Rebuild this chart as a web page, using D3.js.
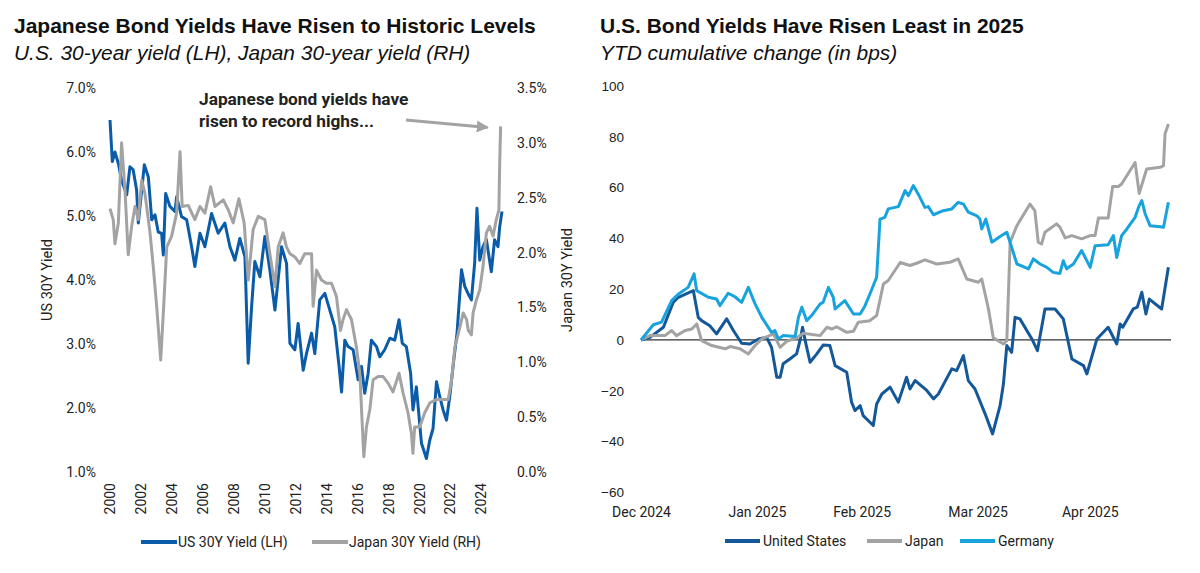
<!DOCTYPE html>
<html>
<head>
<meta charset="utf-8">
<script src="https://cdn.jsdelivr.net/npm/d3@7"></script>
<style>
body { margin: 0; background: #fff; }
text { font-family: Roboto, sans-serif; fill: #222; }
.ttl { font-family: "Liberation Sans", Arial, sans-serif; font-weight: bold; font-size: 21px; fill: #111; }
.sub { font-family: "Liberation Sans", Arial, sans-serif; font-style: italic; font-size: 20.9px; fill: #111; }
</style>
</head>
<body>
<svg width="1200" height="573"></svg>
<script>
// ---- left chart: 30Y yields, decimal years ----
var usYear = [2000.0, 2000.15, 2000.32, 2000.54, 2000.75, 2001.08, 2001.29, 2001.5, 2001.72, 2001.83,
  2002.22, 2002.48, 2002.7, 2002.91, 2003.12, 2003.34, 2003.45, 2003.6, 2003.88, 2004.2,
  2004.31, 2004.63, 2004.96, 2005.28, 2005.49, 2005.82, 2006.14, 2006.57, 2007.0, 2007.43,
  2007.76, 2008.08, 2008.4, 2008.73, 2008.94, 2009.16, 2009.37, 2009.7, 2010.02, 2010.34,
  2010.67, 2011.1, 2011.42, 2011.64, 2011.96, 2012.17, 2012.5, 2012.71, 2013.04, 2013.25,
  2013.57, 2013.9, 2014.22, 2014.54, 2014.82, 2014.98, 2015.19, 2015.4, 2015.73, 2016.05,
  2016.27, 2016.48, 2016.7, 2016.91, 2017.24, 2017.45, 2017.77, 2018.1, 2018.42, 2018.7,
  2018.91, 2019.17, 2019.45, 2019.6, 2019.82, 2020.15, 2020.47, 2020.69, 2020.9, 2021.12,
  2021.33, 2021.55, 2021.77, 2021.98, 2022.24, 2022.45, 2022.74, 2022.95, 2023.16, 2023.38,
  2023.59, 2023.74, 2023.92, 2024.13, 2024.35, 2024.67, 2024.88, 2025.1, 2025.21, 2025.36];
var usYield = [6.5, 5.85, 6.0, 5.82, 5.56, 5.33, 5.77, 5.72, 5.41, 4.89,
  5.8, 5.61, 4.94, 5.02, 4.75, 4.73, 4.39, 5.35, 5.15, 5.07,
  5.3, 4.99, 4.94, 4.52, 4.21, 4.73, 4.52, 5.04, 4.73, 4.89,
  4.52, 4.31, 4.65, 4.36, 2.7, 3.58, 4.29, 4.05, 4.68, 4.16,
  3.53, 4.52, 4.26, 3.01, 2.91, 3.32, 2.59, 2.85, 3.17, 2.85,
  3.69, 3.79, 3.53, 3.27, 2.65, 2.25, 3.06, 2.96, 2.91, 2.44,
  2.65, 2.23, 2.54, 3.06, 2.96, 2.8, 2.91, 3.09, 3.06, 3.38,
  3.01, 2.96, 2.54, 1.97, 2.33, 1.45, 1.21, 1.5, 1.68, 2.41,
  2.18, 1.97, 1.81, 2.18, 2.75, 3.17, 4.16, 3.9, 3.79, 3.69,
  4.26, 5.12, 4.31, 4.52, 4.63, 4.13, 4.63, 4.52, 4.83, 5.07];

var jpYear = [2000.0, 2000.21, 2000.32, 2000.54, 2000.75, 2000.97, 2001.18, 2001.4, 2001.62, 2001.83,
  2002.05, 2002.26, 2002.59, 2002.8, 2003.02, 2003.28, 2003.45, 2003.67, 2003.99, 2004.31,
  2004.53, 2004.67, 2005.06, 2005.49, 2005.82, 2006.14, 2006.51, 2006.79, 2007.33, 2007.65,
  2007.97, 2008.34, 2008.68, 2008.94, 2009.26, 2009.59, 2010.02, 2010.34, 2010.67, 2010.88,
  2011.2, 2011.42, 2011.64, 2011.96, 2012.28, 2012.6, 2013.04, 2013.14, 2013.36, 2013.68,
  2014.0, 2014.33, 2014.65, 2014.91, 2015.08, 2015.3, 2015.62, 2015.94, 2016.16, 2016.42,
  2016.59, 2016.81, 2017.02, 2017.35, 2017.67, 2017.99, 2018.31, 2018.7, 2018.96, 2019.28,
  2019.5, 2019.6, 2019.71, 2020.04, 2020.36, 2020.69, 2021.12, 2021.45, 2021.88, 2022.1,
  2022.31, 2022.53, 2022.85, 2023.07, 2023.18, 2023.38, 2023.49, 2023.71, 2023.92, 2024.13,
  2024.35, 2024.56, 2024.78, 2024.99, 2025.16, 2025.21, 2025.27];
var jpYield = [2.40, 2.30, 2.08, 2.27, 3.0, 2.57, 1.98, 2.24, 2.42, 2.30,
  2.66, 2.54, 2.18, 1.87, 1.51, 1.02, 1.45, 2.05, 2.15, 2.36,
  2.92, 2.42, 2.43, 2.30, 2.42, 2.36, 2.60, 2.42, 2.48, 2.39,
  2.27, 2.49, 2.27, 1.75, 2.21, 2.33, 2.30, 1.99, 1.69, 2.05,
  2.18, 2.05, 1.99, 1.96, 1.90, 1.99, 1.99, 1.51, 1.84, 1.75,
  1.72, 1.72, 1.60, 1.29, 1.39, 1.48, 1.39, 1.14, 0.90, 0.14,
  0.41, 0.57, 0.84, 0.87, 0.87, 0.81, 0.73, 0.90, 0.72, 0.54,
  0.35, 0.17, 0.41, 0.41, 0.54, 0.63, 0.66, 0.66, 0.66, 0.84,
  1.14, 1.26, 1.45, 1.39, 1.29, 1.25, 1.45, 1.57, 1.66, 1.87,
  2.18, 2.24, 2.15, 2.30, 2.39, 2.81, 3.15];

var yearTicks = d3.range(2000, 2025, 2);
var usTicks = [1, 2, 3, 4, 5, 6, 7];
var jpTicks = [0, 0.5, 1, 1.5, 2, 2.5, 3, 3.5];

// ---- right chart: YTD change in bps, days after 31 Dec 2024 ----
var usDay = [0, 2.4, 6.0, 8.6, 10.0, 13.1, 14.0, 15.3, 16.2, 18.4, 20.2, 22.9, 24.7, 26.9, 29.1, 31.4,
  33.6, 34.9, 36.3, 37.2, 38.0, 39.8, 41.6, 42.5, 43.2, 43.9, 45.2, 47.0, 48.7, 50.5, 51.9, 55.0,
  56.3, 57.2, 58.6, 59.4, 62.1, 63.0, 64.4, 66.6, 68.8, 71.0, 71.9, 73.3, 76.4, 78.2, 79.5, 83.1,
  84.4, 86.2, 87.5, 89.3, 92.0, 94.0, 96.0, 96.9, 97.8, 99.1, 100.0, 101.3, 104.5, 106.0, 108.0,
  110.7, 112.9, 115.2, 118.3, 119.2, 121.9, 124.9, 127.2, 128.1, 128.8, 131.6, 132.7, 133.9,
  135.0, 135.9, 139.2, 141.0];
var usBps = [0, 1, 5, 14.8, 16.8, 18.8, 19.4, 8.9, 7.6, 5.6, 2.4, 8.3, 3.7, -1.3, -1.6, 0.4,
  1, -2.9, -14.7, -14.7, -9.4, -7.5, -5.5, -0.3, 5, -0.3, -8.8, -5.5, -2, -2.2, -10.1, -12.7,
  -24.5, -27.8, -25.9, -29.8, -33.7, -25.2, -21.3, -18.6, -24.5, -14.7, -19.3, -16, -19.9, -23.2, -21.3, -11.4,
  -12.1, -6.2, -16, -19.3, -29.1, -37, -25.9, -17.3, -2.2, -4.9, 8.9, 8.3, 0.4, -4.2, 12.2,
  12.2, 8.3, -7.5, -10.1, -13.4, 0.4, 5, -1.6, 6.3, 5, 12.2, 12.9, 18.8,
  10.2, 16.1, 12.2, 28.6];

var jpDay = [0, 2.4, 6.4, 8.2, 9.5, 11.8, 13.6, 14.9, 16.2, 18.9, 22.5, 23.8, 26.5, 28.7, 30.5, 32.3,
  35.4, 37.2, 39.0, 41.6, 43.4, 47.9, 49.7, 51.0, 52.3, 55.0, 56.8, 58.1, 61.2, 63.0, 64.8, 66.1,
  69.3, 71.9, 73.7, 75.9, 79.1, 82.6, 84.8, 87.1, 90.2, 91.1, 92.9, 94.2, 96.9, 97.8, 98.7, 100.5,
  104.0, 105.3, 106.2, 107.1, 108.0, 111.1, 112.0, 113.4, 115.2, 117.8, 120.1, 121.4, 122.3, 124.9,
  126.1, 127.6, 128.5, 132.1, 133.2, 135.2, 138.8, 139.7, 140.1, 141.0];
var jpBps = [0, 1.7, 1.7, 3.7, 1.7, 3.7, 4.3, 6.3, -0.3, -2.2, -3.5, -2.6, -3.5, -5.5, -2.2, 0.4,
  2.4, -2.9, -0.5, 0.8, 2.6, 1.7, 5, 4.3, 5.2, 3, 3.4, 7, 7.6, 9.6, 22, 23.4,
  30.5, 29.3, 30.2, 31.5, 29.9, 30.6, 31.9, 24, 22.7, 24, 12.2, 0.8, -1.6, -0.3, 38.5, 45,
  53.5, 50.9, 38.5, 37.8, 42.4, 45.7, 44.4, 40.2, 41.1, 39.8, 41.1, 41.1, 48, 48,
  60.4, 60.4, 61.4, 69.9, 57.7, 67.3, 68, 68.6, 81.1, 85];

var deDay = [0, 3.3, 5.5, 8.2, 10.0, 12.6, 14.2, 14.9, 18.0, 20.2, 21.1, 23.3, 25.1, 26.9, 28.7, 30.5,
  32.3, 34.9, 35.8, 36.7, 38.0, 41.2, 42.1, 43.0, 44.3, 45.6, 47.9, 48.7, 50.1, 51.4, 51.9, 54.5,
  56.8, 58.6, 59.9, 61.2, 63.0, 63.9, 65.2, 66.1, 68.8, 70.6, 71.5, 72.8, 74.1, 75.9, 76.8, 78.2,
  80.8, 83.1, 84.8, 86.2, 87.5, 89.8, 90.6, 91.1, 92.2, 93.8, 96.0, 97.8, 99.1, 100.5, 102.2,
  103.6, 104.9, 106.7, 108.5, 110.2, 112.0, 112.9, 113.8, 115.6, 117.8, 120.1, 121.4, 124.9,
  126.3, 127.2, 128.5, 129.9, 132.1, 133.2, 133.9, 134.8, 136.1, 138.8, 139.7, 141.0];
var deBps = [0, 6.0, 7.0, 15.5, 18.1, 20.7, 26, 19.4, 16.8, 16.1, 13.5, 18.4, 17, 14.8, 20.7, 14.2,
  8.9, 3, 3.7, 0.4, 1.7, 1.4, 8.9, 12.9, 7.6, 9.6, 14.2, 14.8, 20.7, 16.8, 12.2, 15.5,
  10.2, 10.2, 13.5, 18.1, 24.7, 47.6, 48.3, 51.6, 52.5, 58.8, 56.8, 60.8, 57.5, 52.2, 52.5, 49.3,
  50.9, 51.6, 54.2, 53.5, 50.3, 48.9, 47.6, 43.7, 47.6, 38.5, 40.7, 42.4, 36.5, 29.9, 28.9,
  28, 31.9, 29.9, 28.6, 26.6, 26.2, 31.2, 28, 29.9, 35.2, 28.6, 37.1, 37.5,
  41.1, 32.5, 41.1, 43.7, 48.3, 52.9, 54.9, 49.6, 45, 44.6, 44.4, 54.2];

var monthTicks = ["2024-12-31", "2025-01-31", "2025-02-28", "2025-03-31", "2025-04-30"];
var bpsTicks = [-60, -40, -20, 0, 20, 40, 60, 80, 100];

var colUS = "#0b5ca8", colJP = "#a3a3a3", colDE = "#19a3dd", colUS2 = "#14589a";

var svg = d3.select("svg");
var parse = d3.timeParse("%Y-%m-%d");
var start = parse("2024-12-31");
function dayToDate(d) { return new Date(start.getTime() + d * 864e5); }

// ================= left chart =================
svg.append("text").attr("class", "ttl").attr("x", 14).attr("y", 33)
  .text("Japanese Bond Yields Have Risen to Historic Levels");
svg.append("text").attr("class", "sub").attr("x", 14).attr("y", 60)
  .text("U.S. 30-year yield (LH), Japan 30-year yield (RH)");

var xL = d3.scaleLinear().domain([2000, 2025.36]).range([110, 502]);
var yUS = d3.scaleLinear().domain([1, 7]).range([472, 88]);
var yJP = d3.scaleLinear().domain([0, 3.5]).range([472, 88]);

var axL = svg.append("g").attr("transform", "translate(96,0)")
  .call(d3.axisLeft(yUS).tickValues(usTicks).tickSize(0).tickPadding(0)
    .tickFormat(function(d) { return d.toFixed(1) + "%"; }));
var axR = svg.append("g").attr("transform", "translate(517,0)")
  .call(d3.axisRight(yJP).tickValues(jpTicks).tickSize(0).tickPadding(0)
    .tickFormat(function(d) { return d.toFixed(1) + "%"; }));
var axB = svg.append("g").attr("transform", "translate(0,483)")
  .call(d3.axisBottom(xL).tickValues(yearTicks).tickSize(0).tickFormat(d3.format("d")));
axB.selectAll("text").attr("transform", "rotate(-90)").attr("text-anchor", "end")
  .attr("x", 0).attr("y", 0).attr("dy", "0.35em");
[axL, axR, axB].forEach(function(a) {
  a.select(".domain").remove();
  a.selectAll("text").style("font-family", "Roboto, sans-serif").style("font-size", "14px").attr("fill", "#222");
});

svg.append("text").attr("transform", "translate(52,280) rotate(-90)")
  .attr("text-anchor", "middle").style("font-size", "14.5px").text("US 30Y Yield");
svg.append("text").attr("transform", "translate(572,280) rotate(-90)")
  .attr("text-anchor", "middle").style("font-size", "14.5px").text("Japan 30Y Yield");

var usPts = usYear.map(function(y, i) { return [y, usYield[i]]; });
var jpPts = jpYear.map(function(y, i) { return [y, jpYield[i]]; });

svg.append("path").datum(usPts).attr("fill", "none").attr("stroke", colUS).attr("stroke-width", 3)
  .attr("stroke-linejoin", "round")
  .attr("d", d3.line().x(d => xL(d[0])).y(d => yUS(d[1])));
svg.append("path").datum(jpPts).attr("fill", "none").attr("stroke", colJP).attr("stroke-width", 3)
  .attr("stroke-linejoin", "round")
  .attr("d", d3.line().x(d => xL(d[0])).y(d => yJP(d[1])));

// annotation
svg.append("defs").append("marker").attr("id", "arr").attr("viewBox", "0 0 10 10")
  .attr("refX", 9).attr("refY", 5).attr("markerWidth", 4).attr("markerHeight", 4)
  .attr("orient", "auto").append("path").attr("d", "M0,0L10,5L0,10z").attr("fill", colJP);
var ann = svg.append("text").attr("x", 199).attr("y", 105)
  .style("font-size", "17.3px").style("font-weight", "bold").attr("fill", "#9b9b9b");
ann.append("tspan").attr("x", 199).text("Japanese bond yields have");
ann.append("tspan").attr("x", 199).attr("dy", 22).text("risen to record highs...");
var lastJ = jpPts[jpPts.length - 1];
svg.append("line").attr("x1", 406).attr("y1", 120)
  .attr("x2", xL(lastJ[0]) - 13).attr("y2", yJP(lastJ[1]) + 1)
  .attr("stroke", colJP).attr("stroke-width", 3).attr("marker-end", "url(#arr)");

// legend left
var legL = [["US 30Y Yield (LH)", colUS, 141], ["Japan 30Y Yield (RH)", colJP, 312]];
legL.forEach(function(d) {
  svg.append("line").attr("x1", d[2]).attr("x2", d[2] + 36).attr("y1", 542).attr("y2", 542)
    .attr("stroke", d[1]).attr("stroke-width", 4);
  svg.append("text").attr("x", d[2] + 37).attr("y", 542).attr("dy", "0.35em")
    .style("font-size", "14px").text(d[0]);
});

// ================= right chart =================
svg.append("text").attr("class", "ttl").attr("x", 600).attr("y", 33)
  .text("U.S. Bond Yields Have Risen Least in 2025");
svg.append("text").attr("class", "sub").attr("x", 600).attr("y", 60)
  .text("YTD cumulative change (in bps)");

var xR = d3.scaleTime().domain([start, dayToDate(141.7)]).range([641, 1171]);
var yR = d3.scaleLinear().domain([-60, 100]).range([492.3, 86]);

var axRY = svg.append("g").attr("transform", "translate(624,0)")
  .call(d3.axisLeft(yR).tickValues(bpsTicks).tickSize(0).tickPadding(0));
axRY.selectAll("text").style("font-family", "'Liberation Sans', Arial, sans-serif")
  .style("font-size", "13.5px").attr("fill", "#222");
var axRX = svg.append("g").attr("transform", "translate(0,512)")
  .call(d3.axisBottom(xR).tickValues(monthTicks.map(parse)).tickSize(0)
    .tickFormat(d3.timeFormat("%b %Y")));
axRX.selectAll("text").attr("y", 0).attr("dy", "0.35em")
  .style("font-family", "Roboto, sans-serif").style("font-size", "14px").attr("fill", "#222");
axRY.select(".domain").remove();
axRX.select(".domain").remove();

svg.append("line").attr("x1", xR.range()[0]).attr("x2", xR.range()[1])
  .attr("y1", yR(0)).attr("y2", yR(0)).attr("stroke", "#333").attr("stroke-width", 1.3);

var lineR = d3.line().x(d => xR(dayToDate(d[0]))).y(d => yR(d[1]));
[[usDay, usBps, colUS2], [jpDay, jpBps, colJP], [deDay, deBps, colDE]].forEach(function(s) {
  var pts = s[0].map(function(d, i) { return [d, s[1][i]]; });
  svg.append("path").datum(pts).attr("fill", "none").attr("stroke", s[2])
    .attr("stroke-width", 3).attr("stroke-linejoin", "round").attr("d", lineR);
});

// legend right
var legR = [["United States", colUS2, 725], ["Japan", colJP, 867], ["Germany", colDE, 960]];
legR.forEach(function(d) {
  svg.append("line").attr("x1", d[2]).attr("x2", d[2] + 35).attr("y1", 541).attr("y2", 541)
    .attr("stroke", d[1]).attr("stroke-width", 4);
  svg.append("text").attr("x", d[2] + 38).attr("y", 541).attr("dy", "0.35em")
    .style("font-size", "14px").text(d[0]);
});
</script>
</body>
</html>
